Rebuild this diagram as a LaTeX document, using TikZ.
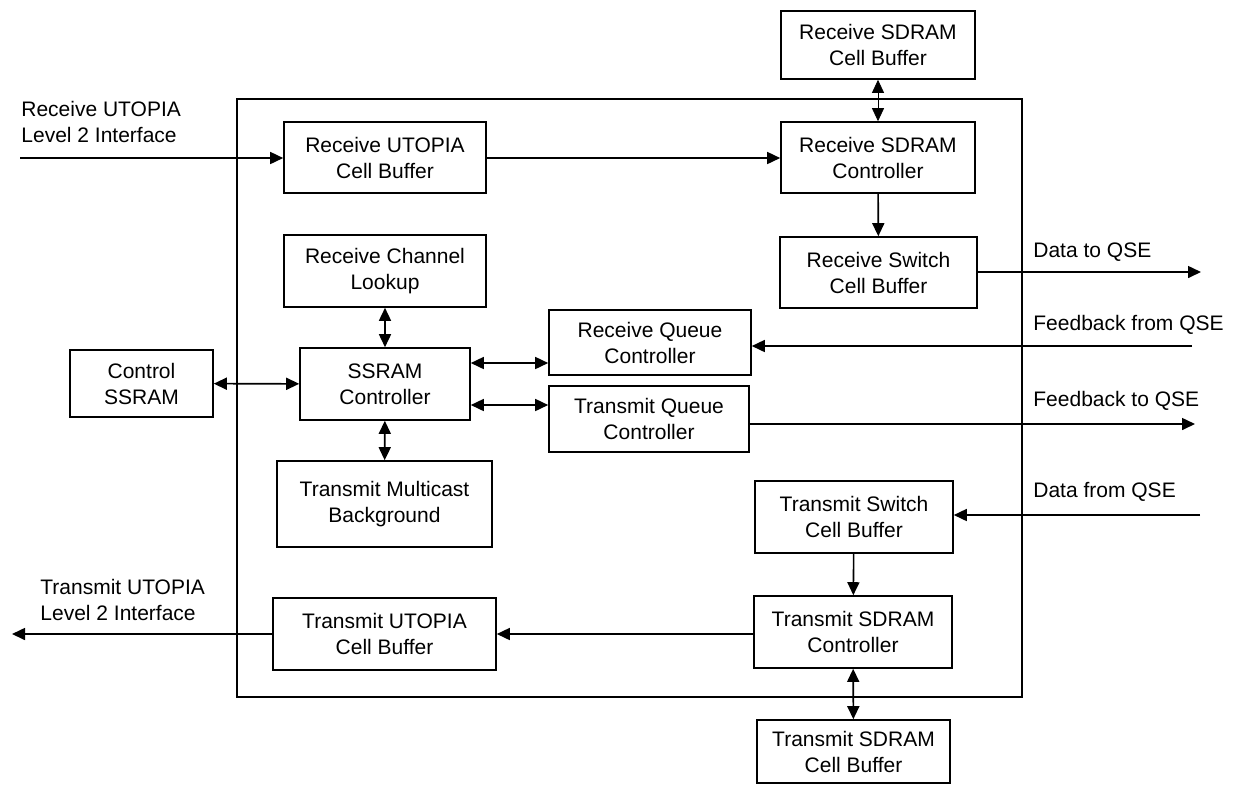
\documentclass[tikz,border=0pt]{standalone}
\usepackage{fontspec}
\setmainfont{Liberation Sans}
\usetikzlibrary{arrows.meta}

\tikzset{
  blk/.style={draw, line width=0.8pt, inner sep=0pt, align=center, font=\fontsize{10.5}{13}\selectfont},
  sig/.style={inner sep=0pt, align=left, anchor=west, font=\fontsize{10.5}{13}\selectfont},
  link/.style={line width=0.8pt},
}

\begin{document}
\begin{tikzpicture}[x=0.5pt, y=-0.5pt, >={Triangle[length=6.5pt,width=6pt]}]
  \useasboundingbox (0,0) rectangle (1239,784);
  % chip outline
  \draw[line width=0.8pt] (237,99) rectangle (1022,697);

  % receive side
  \node[blk, minimum width=97pt, minimum height=34pt] (rscb) at (878,45) {Receive SDRAM\\Cell Buffer};
  \node[blk, minimum width=101pt, minimum height=35.5pt] (rucb) at (385,157.5) {Receive UTOPIA\\Cell Buffer};
  \node[blk, minimum width=97pt, minimum height=35.5pt] (rsdc) at (878,157.5) {Receive SDRAM\\Controller};
  \node[blk, minimum width=101pt, minimum height=36pt] (rcl) at (385,271) {Receive Channel\\Lookup};
  \node[blk, minimum width=98.5pt, minimum height=35.5pt] (rswcb) at (878.5,272.5) {Receive Switch\\Cell Buffer};

  % SSRAM and queues
  \node[blk, minimum width=71.5pt, minimum height=33.5pt] (cssram) at (141.5,383.5) {Control\\SSRAM};
  \node[blk, minimum width=85pt, minimum height=36pt] (ssc) at (385,384) {SSRAM\\Controller};
  \node[blk, minimum width=101pt, minimum height=32.5pt] (rqc) at (650,342.5) {Receive Queue\\Controller};
  \node[blk, minimum width=100pt, minimum height=33pt] (tqc) at (649,419) {Transmit Queue\\Controller};
  \node[blk, minimum width=107.5pt, minimum height=43pt] (tmb) at (384.5,504) {Transmit Multicast\\Background};

  % transmit side
  \node[blk, minimum width=99pt, minimum height=36pt] (tswcb) at (854,517) {Transmit Switch\\Cell Buffer};
  \node[blk, minimum width=111.5pt, minimum height=36pt] (tucb) at (384.5,634) {Transmit UTOPIA\\Cell Buffer};
  \node[blk, minimum width=99pt, minimum height=36pt] (tsdc) at (853,632) {Transmit SDRAM\\Controller};
  \node[blk, minimum width=96.5pt, minimum height=31.5pt] (tsdcb) at (853.5,751.5) {Transmit SDRAM\\Cell Buffer};

  % external signals
  \node[sig] (rxif) at (21,121.5) {Receive UTOPIA\\Level 2 Interface};
  \node[sig] (txif) at (40,600) {Transmit UTOPIA\\Level 2 Interface};
  \node[sig] (dtoql) at (1033,252) {Data to QSE};
  \node[sig] (fbfql) at (1033,325) {Feedback from QSE};
  \node[sig] (fbtql) at (1033,401) {Feedback to QSE};
  \node[sig] (dfql) at (1033,492) {Data from QSE};

  \coordinate (rxin) at (20,158);
  \coordinate (txout) at (12,634);
  \coordinate (dtoq) at (1201,272);
  \coordinate (fbfq) at (1192,346);
  \coordinate (fbtq) at (1195,424);
  \coordinate (dfq) at (1200,515);
  \coordinate (sq1) at ([yshift=10.5pt]ssc.east);
  \coordinate (sq2) at ([yshift=-10.5pt]ssc.east);

  \path[->, link]
  (rxin) edge[link] (rxin -| rucb.west)
  (rucb.east |- rxin) edge[link] (rxin -| rsdc.west)
  (rsdc) edge[link] (rswcb)
  (rswcb.east |- dtoq) edge[link] (dtoq)
  (fbfq) edge[link] (fbfq -| rqc.east)
  (tqc.east |- fbtq) edge[link] (fbtq)
  (dfq) edge[link] (dfq -| tswcb.east)
  (tswcb) edge[link] (tsdc)
  (tsdc.west |- tucb.east) edge[link] (tucb.east)
  (tucb.west) edge[link] (txout)
  ;
  \path[<->, link]
  (rcl) edge[link] (ssc)
  (ssc) edge[link] (tmb)
  (cssram) edge[link] (ssc)
  (sq1) edge[link] (sq1 -| rqc.west)
  (sq2) edge[link] (sq2 -| tqc.west)
  (tsdc) edge[link] (tsdcb)
  ;
  \path[<->] (rscb) edge[line width=0.4pt] (rsdc);
\end{tikzpicture}
\end{document}
